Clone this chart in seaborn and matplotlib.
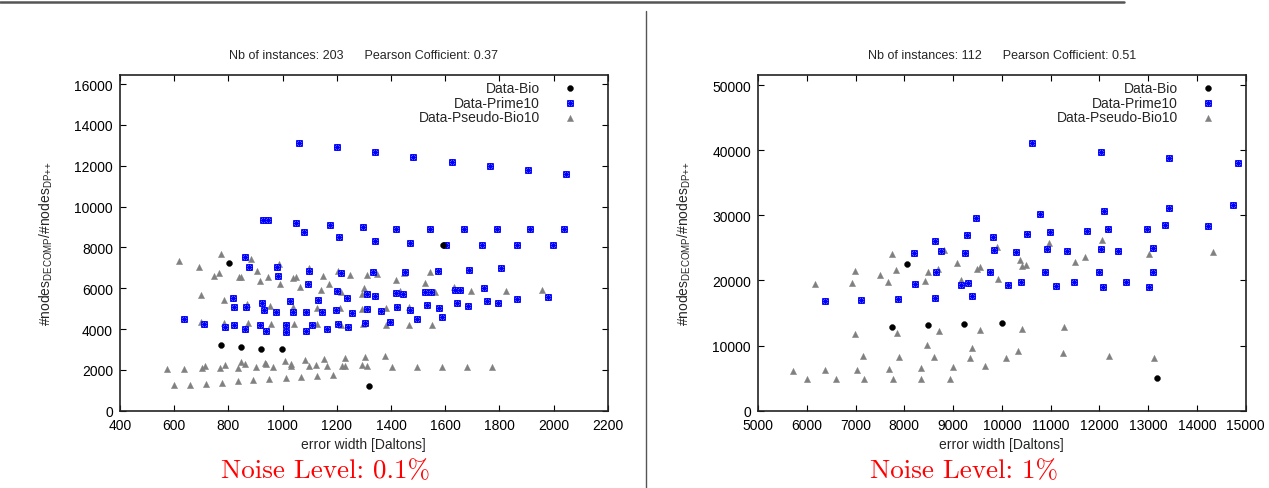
import numpy as np
import pandas as pd
import matplotlib
matplotlib.use("Agg")
import matplotlib.pyplot as plt
from matplotlib.path import Path
from matplotlib.lines import Line2D
import seaborn as sns

# ---------------- Noise level 0.1% ----------------
bio_a_x = [802, 774, 848, 921, 999, 1318, 1593]
bio_a_y = [7250, 3220, 3110, 3010, 3010, 1210, 8120]

prime_a_x = [1060, 1201, 1342, 929, 946, 1049, 1078, 1174, 1207, 1298, 1341,
             1481, 1624, 1764, 1904, 2046, 1420, 1543, 1668, 1790, 1914, 2037,
             1471, 1602, 1735, 1865, 1998, 1452, 1572, 1689, 1808, 1417, 1443,
             1525, 1549, 1636, 1654, 1743, 1864, 1978, 1363, 1421, 1470, 1533,
             1578, 1644, 1685, 1754, 1795, 1396, 1495, 1589, 636, 710, 786, 821,
             818, 822, 862, 875, 864, 861, 917, 924, 930, 938, 976, 980, 984,
             1013, 1014, 1027, 1038, 1087, 1087, 1093, 1097, 1107, 1132, 1145,
             1164, 1198, 1200, 1206, 1215, 1237, 1240, 1255, 1303, 1310, 1310,
             1335, 1341]
prime_a_y = [13130, 12920, 12690, 9340, 9340, 9180, 8770, 9090, 8500, 9020, 8320,
             12430, 12200, 11990, 11790, 11610, 8920, 8920, 8900, 8900, 8900, 8920,
             8220, 8130, 8130, 8130, 8130, 6810, 6860, 6910, 6980, 5770, 5720,
             5820, 5820, 5910, 5910, 6000, 5470, 5570, 4890, 5080, 4950, 5180,
             5050, 5280, 5150, 5360, 5260, 4360, 4480, 4590, 4490, 4250, 4090, 4200,
             5510, 5070, 7520, 7040, 5100, 3990, 4190, 5290, 4930, 3920, 4850, 7040, 6590,
             4190, 3870, 5360, 4850, 4850, 3890, 6210, 6850, 4200, 5440, 4820,
             4000, 4920, 5880, 4250, 6730, 5520, 4100, 4790, 4300, 5700, 5000,
             6780, 5610]

pseudo_a_x = [617, 693, 774, 748, 766, 698, 784, 700, 785, 840, 848, 882, 907, 917,
              869, 871, 947, 954, 957, 988, 992, 1037, 1048, 1038, 1041, 1065, 1096,
              1126, 1127, 1142, 1148, 1170, 1206, 1211, 1217, 1214, 1248, 1294, 1300,
              1294, 1297, 1310, 1347, 1380, 1383, 1417, 1432, 1448, 1467, 1465, 1524,
              1545, 1563, 1552, 1631, 1694, 1825, 1956,
              572, 637, 703, 715, 768, 789, 834, 845, 862, 901, 934, 939, 966, 1008,
              1032, 1032, 1083, 1099, 1124, 1154, 1165, 1219, 1229, 1229, 1294, 1303,
              1310, 1377, 1405, 1496, 1588, 1682, 1774,
              600, 658, 717, 777, 834, 892, 951, 1011, 1068, 1126, 1186]
pseudo_a_y = [7340, 7030, 7660, 6620, 6750, 5670, 5420, 4360, 4300, 6570, 6570, 7430, 6850, 6360,
              5240, 4280, 6550, 5130, 4260, 7200, 6210, 6500, 6550, 5070, 4250, 6050, 6990,
              5030, 4250, 5930, 6590, 6210, 6830, 5030, 5820, 4210, 6650, 5720, 6030,
              5000, 4230, 6650, 6680, 5020, 4210, 6420, 5880, 6730, 4210, 5070, 6240,
              6800, 5820, 4200, 6060, 5850, 5880, 5910,
              2060, 2060, 2080, 2210, 2110, 2250, 2110, 2390, 2300, 2140, 2350, 2300, 2160, 2420,
              2270, 2180, 2480, 2180, 2240, 2530, 2190, 2210, 2210, 2580, 2240, 2630,
              2180, 2680, 2160, 2160, 2160, 2160, 2160,
              1250, 1270, 1320, 1370, 1440, 1490, 1550, 1620, 1670, 1720, 1760]

# ---------------- Noise level 1% ----------------
bio_b_x = [8057, 7750, 8488, 9233, 10007, 13187]
bio_b_y = [22500, 12920, 13120, 13270, 13430, 5010]

prime_b_x = [9467, 9283, 9816, 8626, 10622, 12024, 13434, 14835, 10780, 12100, 13419,
             14733, 10520, 10992, 11751, 12182, 12982, 13352, 14220, 8195, 8755, 9248,
             9849, 10288, 8646, 9767, 8216, 9172, 9309, 10136, 10391, 9385, 6369, 7120,
             7873, 8632, 10936, 11335, 12024, 12373, 13106, 10889, 11997, 13106, 11101,
             11470, 12065, 12545, 13023]
prime_b_y = [29620, 27010, 26650, 25990, 41160, 39770, 38760, 38080, 30240, 30700, 31160,
             31580, 27160, 27380, 27580, 27930, 27930, 28450, 28300, 24190, 24500, 24240,
             24650, 24390, 21320, 21320, 19430, 19320, 19630, 19230, 19690, 17580, 16860, 16960,
             17120, 17320, 24760, 24450, 24850, 24500, 24960, 21320, 21320, 21320, 19120,
             19730, 19010, 19730, 18960]

pseudo_b_x = [10965, 12045, 7750, 6991, 6170, 6923, 7497, 7838, 7674, 8421, 8495, 8700,
              8810, 9077, 9165, 9500, 9549, 9919, 9898, 10363, 13017, 14330, 11704, 11490,
              10411, 10485, 6997, 7852, 8708, 9562, 10423, 11273, 8467, 9391, 7148, 7887,
              8618, 9357, 10095, 10321, 11253, 12188, 13120, 5718, 6381, 7038, 7694, 8351,
              9008, 9664, 6006, 6594, 7175, 7764, 8345, 8934]
pseudo_b_y = [25730, 26190, 24090, 21380, 19470, 19630, 20810, 21580, 19780, 19930, 21270, 21780,
              24650, 22660, 20090, 21780, 21990, 20240, 25160, 23070, 24040, 24300, 23620, 22860,
              22150, 22300, 11780, 11940, 12200, 12460, 12610, 12810, 10150, 9690, 8460, 8310,
              8240, 8150, 8150, 9170, 8810, 8460, 8150, 6150, 6200, 6310, 6460, 6610,
              6770, 6810, 4810, 4810, 4810, 4810, 4810, 4810]

series_labels = ["Data-Bio", "Data-Prime10", "Data-Pseudo-Bio10"]
instances = [203, 112]
pearson = ["0.37", "0.51"]
noise_labels = ["Noise Level: 0.1%", "Noise Level: 1%"]
x_limits = [(400, 2200), (5000, 15000)]
x_ticks = [np.arange(400, 2201, 200), np.arange(5000, 15001, 1000)]
y_limits = [(0, 16450), (0, 51550)]
y_ticks = [np.arange(0, 16001, 2000), np.arange(0, 50001, 10000)]

panels = [
    (bio_a_x, bio_a_y, prime_a_x, prime_a_y, pseudo_a_x, pseudo_a_y),
    (bio_b_x, bio_b_y, prime_b_x, prime_b_y, pseudo_b_x, pseudo_b_y),
]

sns.set_style("ticks")
plt.rcParams["font.family"] = ["Liberation Sans", "DejaVu Sans"]
plt.rcParams["mathtext.fontset"] = "custom"
plt.rcParams["mathtext.rm"] = "Liberation Sans"
plt.rcParams["mathtext.it"] = "Liberation Sans:italic"

# asterisk-in-a-box marker
star_box = Path(
    [(-1, -1), (1, -1), (1, 1), (-1, 1), (-1, -1),
     (-1, 0), (1, 0), (0, -1), (0, 1),
     (-0.75, -0.75), (0.75, 0.75), (-0.75, 0.75), (0.75, -0.75)],
    [Path.MOVETO, Path.LINETO, Path.LINETO, Path.LINETO, Path.CLOSEPOLY,
     Path.MOVETO, Path.LINETO, Path.MOVETO, Path.LINETO,
     Path.MOVETO, Path.LINETO, Path.MOVETO, Path.LINETO],
)

W, H = 1269, 489
fig = plt.figure(figsize=(W / 100, H / 100), dpi=100)

ax_left_px = [120, 758]
ax_w_px = 487.7
ax_top_px, ax_bot_px = 76, 411.7

for i, (bx, by, px_, py_, sx, sy) in enumerate(panels):
    ax = fig.add_axes([ax_left_px[i] / W, 1 - ax_bot_px / H,
                       ax_w_px / W, (ax_bot_px - ax_top_px) / H])
    df_bio = pd.DataFrame({"x": bx, "y": by})
    df_prime = pd.DataFrame({"x": px_, "y": py_})
    df_pseudo = pd.DataFrame({"x": sx, "y": sy})

    sns.scatterplot(data=df_pseudo, x="x", y="y", ax=ax, marker="^", s=20,
                    color="#808080", edgecolor="#808080", linewidth=0.3,
                    label=series_labels[2], zorder=2)
    sns.scatterplot(data=df_prime, x="x", y="y", ax=ax, marker=star_box, s=17,
                    facecolor="#c4c4ff", edgecolor="#0000ff", linewidth=0.8,
                    label=series_labels[1], zorder=3)
    sns.scatterplot(data=df_bio, x="x", y="y", ax=ax, marker="o", s=18,
                    color="black", edgecolor="black", linewidth=0.3,
                    label=series_labels[0], zorder=4)

    ax.set_xlim(*x_limits[i])
    ax.set_ylim(*y_limits[i])
    ax.set_xticks(x_ticks[i])
    ax.set_yticks(y_ticks[i])
    ax.tick_params(direction="in", top=True, right=True, length=4, width=0.8,
                   labelsize=10, pad=5, colors="black")
    for sp in ax.spines.values():
        sp.set_linewidth(1.2)
        sp.set_color("#222222")

    ax.set_xlabel("error width [Daltons]", fontsize=10, labelpad=4)
    ax.set_ylabel(r"#nodes$_{\mathrm{DECOMP}}$/#nodes$_{\mathrm{DP{+}{+}}}$", fontsize=10)
    ax.yaxis.set_label_coords(-0.133, 0.5)

    handles, labels = ax.get_legend_handles_labels()
    order = [labels.index(l) for l in series_labels]
    ax.legend([handles[k] for k in order], [labels[k] for k in order],
              loc="upper right", bbox_to_anchor=(0.949, 1.0), borderaxespad=0,
              frameon=False, markerfirst=False, fontsize=10, handlelength=1.0,
              handletextpad=1.7, labelspacing=0.07, borderpad=0.4)

    cx = (ax_left_px[i] + ax_w_px / 2) / W
    fig.text(cx, 1 - 56 / H,
             f"Nb of instances: {instances[i]}      Pearson Cofficient: {pearson[i]}",
             ha="center", va="center", fontsize=9)
    fig.text(cx - 38 / W, 1 - 471 / H, noise_labels[i],
             ha="center", va="center", fontsize=19.5, color="#ff0000",
             family="cmr10")

# page rules
fig.add_artist(Line2D([0, 1124 / W], [1 - 3 / H, 1 - 3 / H], color="#555555", linewidth=1.8))
fig.add_artist(Line2D([646 / W, 646 / W], [0, 1 - 12 / H], color="#555555", linewidth=1.0))

fig.savefig("out.png", dpi=100)
